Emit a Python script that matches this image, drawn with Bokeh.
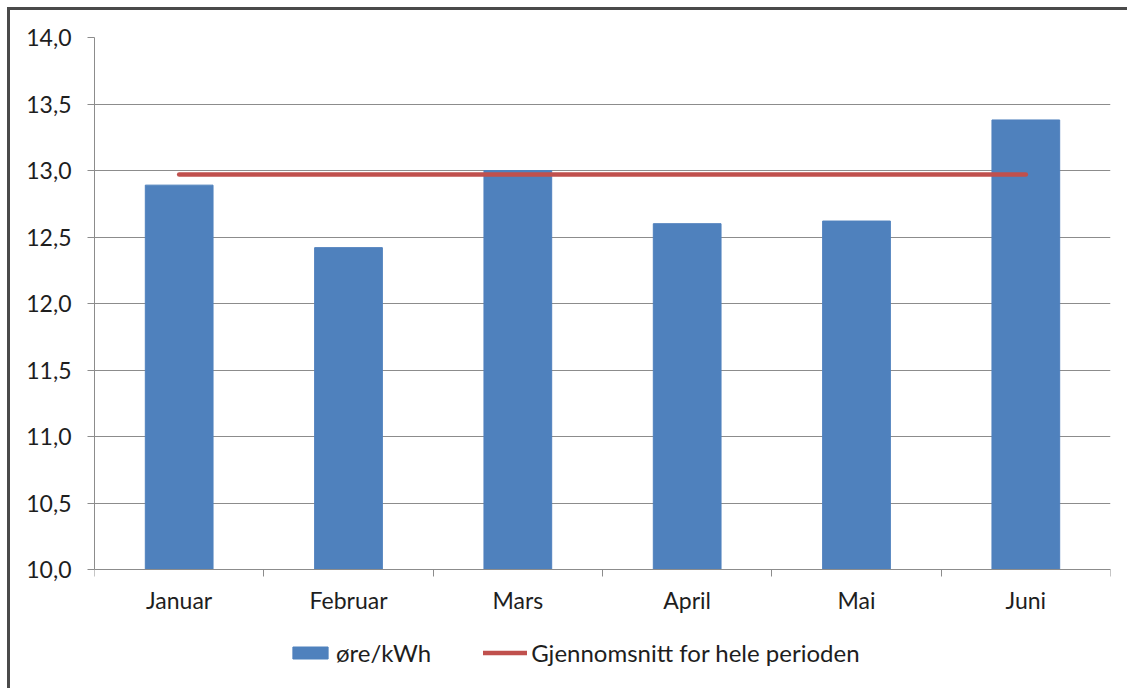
from bokeh.plotting import figure
from bokeh.models import FixedTicker, Legend, LegendItem, ColumnDataSource
from bokeh.embed import file_html
from bokeh.resources import INLINE

# Monthly price and the average for the whole period
months = ["Januar", "Februar", "Mars", "April", "Mai", "Juni"]
price = [12.89, 12.42, 13.00, 12.60, 12.62, 13.38]
period_average = 12.97
y_ticks = [10.0, 10.5, 11.0, 11.5, 12.0, 12.5, 13.0, 13.5, 14.0]
y_tick_labels = ["10,0", "10,5", "11,0", "11,5", "12,0", "12,5", "13,0", "13,5", "14,0"]

FONT = "Lato"
FONT_SIZE = "23px"
BLUE = "#4F81BD"
RED = "#C0504D"
GRID = "#8C8C8C"
TEXT = "#1e1e1e"

W, H = 1120, 681
LEFT, RIGHT, TOP = 84, 20, 27
# value axis spans 10..14 over the upper part of the frame; the lower part
# holds the category labels and the legend
AXIS_PX = 532
Y_MIN, Y_MAX = y_ticks[0], y_ticks[-1]
frame_h = H - TOP
y_start = Y_MAX - (Y_MAX - Y_MIN) * frame_h / AXIS_PX

xpos = [i + 0.5 for i in range(len(months))]
src = ColumnDataSource(dict(x=xpos, top=price, month=months))

p = figure(width=W, height=H, x_range=(0, len(months)), y_range=(y_start, Y_MAX),
           output_backend="svg", toolbar_location=None,
           min_border_left=LEFT, min_border_right=RIGHT, min_border_top=TOP,
           min_border_bottom=0)
p.styles = {"margin-left": "7px", "margin-top": "7px",
            "border-left": "3px solid #4a4a4a", "border-top": "3px solid #4a4a4a"}
p.outline_line_color = None
p.background_fill_color = "white"
p.border_fill_color = "white"

bars = p.vbar(x="x", top="top", bottom=Y_MIN, width=0.4, source=src,
              fill_color=BLUE, line_color=BLUE)
avg = p.line(x=[xpos[0], xpos[-1]], y=[period_average, period_average],
             line_color=RED, line_width=4.5, line_cap="round")

# value axis
p.yaxis.ticker = FixedTicker(ticks=y_ticks)
p.yaxis.bounds = (Y_MIN, Y_MAX)
p.yaxis.major_label_overrides = dict(zip(y_ticks, y_tick_labels))
p.yaxis.axis_line_color = GRID
p.yaxis.major_tick_line_color = GRID
p.yaxis.major_tick_out = 7
p.yaxis.major_tick_in = 0
p.yaxis.minor_tick_line_color = None
p.yaxis.major_label_standoff = 16
p.yaxis.major_label_text_font = FONT
p.yaxis.major_label_text_font_size = FONT_SIZE
p.yaxis.major_label_text_color = TEXT

# category axis sits on the 10,0 line: labels at centres, ticks at boundaries
p.xaxis.fixed_location = Y_MIN
p.xaxis.ticker = FixedTicker(ticks=xpos, minor_ticks=list(range(len(months) + 1)))
p.xaxis.major_label_overrides = dict(zip(xpos, months))
p.xaxis.axis_line_color = GRID
p.xaxis.major_tick_line_color = None
p.xaxis.major_tick_out = 0
p.xaxis.major_tick_in = 0
p.xaxis.minor_tick_line_color = GRID
p.xaxis.minor_tick_out = 7
p.xaxis.minor_tick_in = 0
p.xaxis.major_label_standoff = 9
p.xaxis.major_label_text_font = FONT
p.xaxis.major_label_text_font_size = FONT_SIZE
p.xaxis.major_label_text_color = TEXT

p.xgrid.grid_line_color = None
p.ygrid.grid_line_color = GRID
p.ygrid.ticker = FixedTicker(ticks=y_ticks)

legend = Legend(items=[LegendItem(label="øre/kWh", renderers=[bars]),
                       LegendItem(label="Gjennomsnitt for hele perioden", renderers=[avg])],
                orientation="horizontal", location=(194, 24),
                glyph_width=44, glyph_height=15, label_standoff=4, spacing=52,
                label_text_font=FONT, label_text_font_size="24px",
                label_text_color=TEXT,
                border_line_color=None, background_fill_alpha=0,
                padding=0, margin=0)
p.add_layout(legend)

open("out.html", "w").write(file_html(p, INLINE))
